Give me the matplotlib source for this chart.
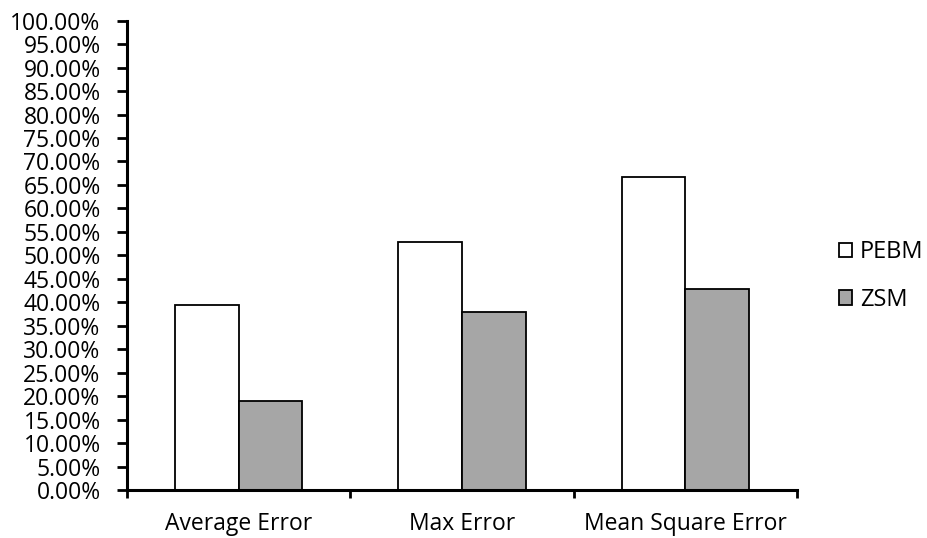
import matplotlib.pyplot as plt
import numpy as np
from matplotlib.ticker import MultipleLocator, PercentFormatter

plt.rcParams['font.family'] = ['Open Sans', 'DejaVu Sans']

# Error metrics for the two methods (percent)
categories = ['Average Error', 'Max Error', 'Mean Square Error']
pebm = [39.4, 52.8, 66.7]
zsm = [19.0, 37.9, 42.8]

fig = plt.figure(figsize=(9.28, 5.38), dpi=100)
ax = fig.add_axes([127 / 928, 1 - 490 / 538, 670 / 928, 469.3 / 538])

x = np.arange(len(categories))
width = 1 / 3.5
ax.bar(x - width / 2, pebm, width, color='white', edgecolor='black', linewidth=1.3, label='PEBM')
ax.bar(x + width / 2, zsm, width, color='#a6a6a6', edgecolor='black', linewidth=1.3, label='ZSM')

ax.set_xlim(-0.5, len(categories) - 0.5)
ax.set_ylim(0, 100)
ax.yaxis.set_major_locator(MultipleLocator(5))
ax.yaxis.set_major_formatter(PercentFormatter(decimals=2))

# category labels centred, ticks on the boundaries
ax.set_xticks(np.arange(len(categories) + 1) - 0.5)
ax.set_xticklabels([])
ax.set_xticks(x, minor=True)
ax.set_xticklabels(categories, minor=True, fontsize=16.5)
ax.tick_params(axis='x', which='minor', length=0, pad=15.5)
ax.tick_params(axis='x', which='major', direction='out', length=6, width=2)
ax.tick_params(axis='y', direction='out', length=7, width=2, labelsize=16.5, pad=12)

for side in ['top', 'right']:
    ax.spines[side].set_visible(False)
for side in ['left', 'bottom']:
    ax.spines[side].set_linewidth(2.2)

ax.legend(loc='center left', bbox_to_anchor=(1.062, 0.456), frameon=False, fontsize=17,
          handlelength=0.55, handleheight=0.55, handletextpad=0.35, labelspacing=1.0,
          borderpad=0, borderaxespad=0)

fig.savefig('out.png', dpi=100)
